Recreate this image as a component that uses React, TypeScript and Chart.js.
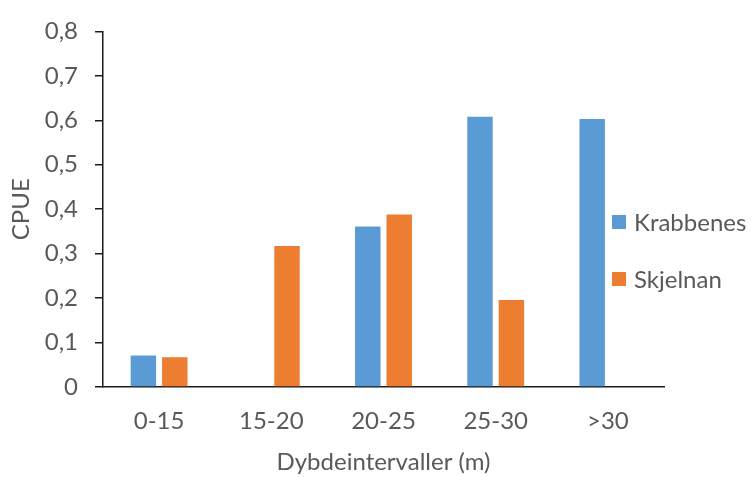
import { useEffect, useRef } from "react";
import { Chart, registerables } from "chart.js";

Chart.register(...registerables);

// Depth intervals and catch-per-unit-effort for the two sites
const categories = ["0-15", "15-20", "20-25", "25-30", ">30"];
const krabbenes = [0.071, 0, 0.361, 0.608, 0.603];
const skjelnan = [0.067, 0.317, 0.388, 0.196, 0];
const seriesNames = ["Krabbenes", "Skjelnan"];
const seriesColors = ["#5B9BD5", "#ED7D31"];
const yTitle = "CPUE";
const xTitle = "Dybdeintervaller (m)";

const FONT = "Lato, 'Open Sans', sans-serif";
const FONT_SIZE = 24;
const TEXT = "#595959";
const AXIS = "#1a1a1a";

// Legend drawn at the right, stacked vertically, overlapping the plot edge
const sideLegend = {
  id: "sideLegend",
  afterDraw(chart: any) {
    const ctx = chart.ctx as CanvasRenderingContext2D;
    ctx.save();
    ctx.font = `${FONT_SIZE}px ${FONT}`;
    ctx.textBaseline = "middle";
    ctx.textAlign = "left";
    chart.data.datasets.forEach((ds: any, i: number) => {
      const cy = 222 + i * 57;
      ctx.fillStyle = ds.backgroundColor;
      ctx.fillRect(612, cy - 7, 14, 14);
      ctx.fillStyle = TEXT;
      ctx.fillText(ds.label, 634, cy + 1);
    });
    ctx.restore();
  },
};

export default function App() {
  const ref = useRef<HTMLCanvasElement | null>(null);

  useEffect(() => {
    if (!ref.current) return;
    const chart = new Chart(ref.current, {
      type: "bar",
      data: {
        labels: categories,
        datasets: [
          { label: seriesNames[0], data: krabbenes, backgroundColor: seriesColors[0] },
          { label: seriesNames[1], data: skjelnan, backgroundColor: seriesColors[1] },
        ],
      },
      options: {
        animation: false,
        responsive: false,
        maintainAspectRatio: false,
        devicePixelRatio: 1,
        layout: { padding: { left: 0, right: 89, top: 24, bottom: 0 } },
        datasets: {
          bar: { categoryPercentage: 0.56, barPercentage: 0.81 },
        },
        plugins: {
          legend: { display: false },
          tooltip: { enabled: false },
        },
        scales: {
          x: {
            grid: { display: false, drawTicks: false },
            border: { display: true, color: AXIS, width: 1.5 },
            ticks: { color: TEXT, font: { family: FONT, size: FONT_SIZE }, padding: 20 },
            title: {
              display: true,
              text: xTitle,
              color: TEXT,
              font: { family: FONT, size: FONT_SIZE },
              padding: { top: 4, bottom: 0 },
            },
            afterFit(scale: any) {
              scale.height = 90;
            },
          },
          y: {
            min: 0,
            max: 0.8,
            ticks: {
              stepSize: 0.1,
              color: TEXT,
              font: { family: FONT, size: FONT_SIZE },
              padding: 17,
              callback: (v: any) => {
                const n = Number(v);
                return n === 0 ? "0" : n.toFixed(1).replace(".", ",");
              },
            },
            grid: {
              display: true,
              drawOnChartArea: false,
              drawTicks: true,
              tickLength: 8,
              color: AXIS,
              lineWidth: 1.5,
            },
            border: { display: true, color: AXIS, width: 1.5 },
            title: {
              display: true,
              text: yTitle,
              color: TEXT,
              font: { family: FONT, size: FONT_SIZE },
              padding: { top: 7, bottom: 0 },
            },
            afterFit(scale: any) {
              scale.width = 103;
            },
          },
        },
      },
      plugins: [sideLegend],
    });
    return () => chart.destroy();
  }, []);

  return (
    <div style={{ position: "fixed", left: 0, top: 0, width: 753, height: 477, background: "#fff" }}>
      <canvas ref={ref} width={753} height={477} style={{ width: 753, height: 477 }} />
    </div>
  );
}
